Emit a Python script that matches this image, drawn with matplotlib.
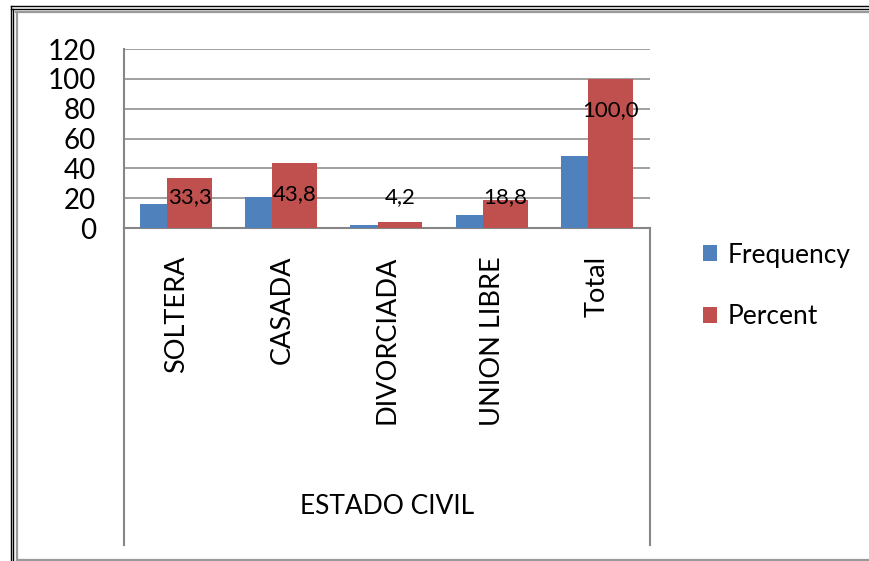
import matplotlib
matplotlib.use("Agg")
import matplotlib.pyplot as plt
import numpy as np
from matplotlib.lines import Line2D

# datos
categorias = ["SOLTERA", "CASADA", "DIVORCIADA", "UNION LIBRE", "Total"]
frecuencia = [16, 21, 2, 9, 48]
porcentaje = [33.3, 43.8, 4.2, 18.8, 100.0]
etiquetas = ["33,3", "43,8", "4,2", "18,8", "100,0"]

azul = "#4F81BD"
rojo = "#C0504D"
gris = "#868686"

plt.rcParams["font.family"] = ["Lato", "DejaVu Sans"]

W, H = 870, 561
fig = plt.figure(figsize=(W / 100, H / 100), dpi=100)

def fx(px):
    return px / W

def fy(py):
    return 1 - py / H

ax = fig.add_axes([fx(124), fy(228), fx(650) - fx(124), fy(49) - fy(228)])

x = np.arange(len(categorias))
ax.bar(x - 0.347, frecuencia, width=0.257, align="edge", color=azul, label="Frequency", zorder=3)
ax.bar(x - 0.09, porcentaje, width=0.427, align="edge", color=rojo, label="Percent", zorder=3)

# posiciones de las etiquetas (como en Excel)
pos_etiqueta = [21, 23, 21, 21, 79]
for i in range(len(categorias)):
    ax.text(x[i] - 0.09 + 0.427 / 2, pos_etiqueta[i], etiquetas[i], ha="center", va="center",
            fontsize=16, color="black", zorder=4)

ax.set_xlim(-0.5, len(categorias) - 0.5)
ax.set_ylim(0, 120)
ax.set_yticks(range(0, 121, 20))
ax.yaxis.grid(True, color=gris, linewidth=1.1, zorder=0)
ax.set_axisbelow(True)

ax.set_xticks(x)
ax.set_xticklabels(categorias, rotation=90, fontsize=19.5, va="top", ha="center")
ax.tick_params(axis="x", length=0, pad=20)
ax.tick_params(axis="y", length=0, pad=20, labelsize=20)

for s in ["top", "right"]:
    ax.spines[s].set_visible(False)
ax.spines["left"].set_color(gris)
ax.spines["left"].set_linewidth(1.5)
ax.spines["bottom"].set_color(gris)
ax.spines["bottom"].set_linewidth(1.5)

# marco inferior del area de grafico
fig.add_artist(Line2D([fx(124), fx(124)], [fy(228), fy(545)], color=gris, lw=1.5))
fig.add_artist(Line2D([fx(650), fx(650)], [fy(228), fy(545)], color=gris, lw=1.5))

fig.text(fx(387), fy(507), "ESTADO CIVIL", ha="center", va="center", fontsize=19)

ax.legend(loc="center left", bbox_to_anchor=(fx(692), fy(286)), bbox_transform=fig.transFigure,
          frameon=False, fontsize=19, handlelength=0.55, handleheight=0.55,
          handletextpad=0.4, labelspacing=1.4, borderaxespad=0)

# borde de la imagen
fig.add_artist(Line2D([fx(11), 1], [fy(6), fy(6)], color="black", lw=1))
fig.add_artist(Line2D([fx(11), 1], [fy(8.5), fy(8.5)], color="black", lw=1))
fig.add_artist(Line2D([fx(16), 1], [fy(11.5), fy(11.5)], color="#999999", lw=1.6))
fig.add_artist(Line2D([fx(11), fx(11)], [fy(6), 0], color="black", lw=1))
fig.add_artist(Line2D([fx(13.5), fx(13.5)], [fy(8.5), 0], color="black", lw=1))
fig.add_artist(Line2D([fx(17), fx(17)], [fy(11.5), 0], color="#999999", lw=1.6))
fig.add_artist(Line2D([fx(17), 1], [fy(560), fy(560)], color="#999999", lw=1.6))

fig.savefig("out.png", dpi=100)
